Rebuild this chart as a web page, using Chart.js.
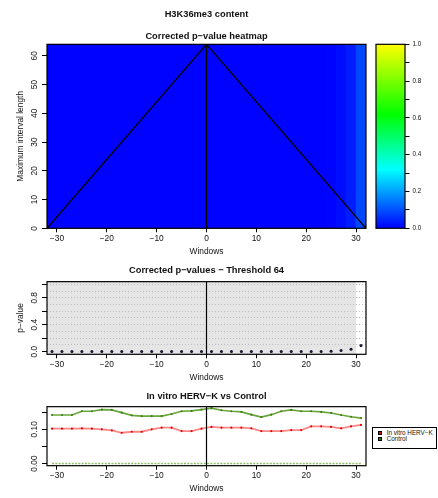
<!DOCTYPE html>
<html lang="en">
<head>
<meta charset="utf-8">
<title>H3K36me3 content</title>
<script src="https://cdn.jsdelivr.net/npm/chart.js@4.4.1/dist/chart.umd.min.js"></script>
<style>
  html, body { margin: 0; padding: 0; background: #fff; overflow: hidden; }
  #page { position: relative; width: 438px; height: 498px; }
  #page canvas { position: absolute; left: 0; }
  #legend {
    position: absolute; left: 372px; top: 427px; width: 65px; height: 22px;
    box-sizing: border-box; border: 1px solid #000; padding: 1.5px 0 0 4.5px;
    font-family: 'Liberation Sans', Arial, sans-serif; font-size: 6.3px; line-height: 6.3px; color: #111;
  }
  #legend .item { position: relative; height: 6.3px; white-space: nowrap; }
  #legend .swatch { position: absolute; left: 0; top: 1.1px; width: 4.6px; height: 4px; box-sizing: border-box; border: 0.7px solid #000; }
  #legend .name { display: block; margin-left: 9.2px; height: 6.3px; line-height: 6.3px; }
</style>
</head>
<body>
<div id="page">
  <canvas id="heatmap" width="370" height="262" style="top:0"></canvas>
  <canvas id="colorbar" width="68" height="262" style="top:0;left:370px"></canvas>
  <canvas id="pvalues" width="370" height="127" style="top:258px"></canvas>
  <canvas id="profiles" width="370" height="113" style="top:385px"></canvas>
  <div id="legend"></div>
</div>
<script>
(function () {
  // windows (odd offsets around the element)
  var windows = [-31, -29, -27, -25, -23, -21, -19, -17, -15, -13, -11, -9, -7, -5, -3, -1,
                 1, 3, 5, 7, 9, 11, 13, 15, 17, 19, 21, 23, 25, 27, 29, 31];

  // corrected p-values at threshold 64 (also colour the heatmap columns)
  var pValues = [0.003, 0.003, 0.003, 0.003, 0.003, 0.003, 0.003, 0.003, 0.003, 0.003, 0.003, 0.003, 0.003, 0.003, 0.003, 0.003,
                 0.003, 0.003, 0.003, 0.003, 0.003, 0.003, 0.003, 0.003, 0.003, 0.003, 0.003, 0.003, 0.004, 0.015, 0.035, 0.09];

  // mean content per window
  var hervK = [0.102, 0.102, 0.102, 0.103, 0.102, 0.100, 0.097, 0.090, 0.093, 0.093, 0.100, 0.105, 0.105, 0.095, 0.095, 0.102,
               0.107, 0.105, 0.105, 0.105, 0.103, 0.095, 0.095, 0.095, 0.098, 0.098, 0.109, 0.109, 0.107, 0.103, 0.109, 0.113];
  var control = [0.142, 0.142, 0.142, 0.153, 0.153, 0.158, 0.157, 0.149, 0.141, 0.139, 0.139, 0.139, 0.145, 0.153, 0.154, 0.158,
                 0.162, 0.156, 0.153, 0.151, 0.143, 0.136, 0.143, 0.153, 0.157, 0.153, 0.153, 0.151, 0.148, 0.142, 0.137, 0.133];
  var zeroLevel = [0, 0, 0, 0, 0, 0, 0, 0, 0, 0, 0, 0, 0, 0, 0, 0,
                   0, 0, 0, 0, 0, 0, 0, 0, 0, 0, 0, 0, 0, 0, 0, 0];
  var seriesNames = ['In vitro HERV\u2212K', 'Control'];

  var maxIntervalLength = 64;
  var triangleX = [-32, 0, 32];
  var triangleY = [0, 64, 0];
  var centerX = [0, 0];
  var centerY = [0, 64];
  var windowRange = [-32, 32];
  var shadeRange = [-32, 30];
  var colorbarRange = [0, 1];

  // ticks
  var xTicks = [-30, -20, -10, 0, 10, 20, 30];
  var lengthTicks = [0, 10, 20, 30, 40, 50, 60];
  var pGridTicks = [0, 0.1, 0.2, 0.3, 0.4, 0.5, 0.6, 0.7, 0.8, 0.9, 1];
  var pMarkTicks = [0, 0.2, 0.4, 0.6, 0.8, 1];
  var pLabelTicks = [0, 0.4, 0.8];
  var contentTicks = [0, 0.05, 0.1, 0.15];
  var contentLabelTicks = [0, 0.1];
  var colorbarTicks = [0, 0.1, 0.2, 0.3, 0.4, 0.5, 0.6, 0.7, 0.8, 0.9, 1];
  var colorbarLabelTicks = [0, 0.2, 0.4, 0.6, 0.8, 1];

  // blue -> cyan -> green -> yellow
  var heatStops = [[0, 0, 0, 255], [0.32, 0, 255, 255], [0.62, 0, 255, 0], [1, 255, 255, 0]];
  var legendFills = ['#e80000', '#2f8000'];

  var FONT = "'Liberation Sans', Arial, Helvetica, sans-serif";
  var TEXT = '#111';
  var titleFont = { family: FONT, size: 9.3, weight: 'bold', lineHeight: 1.2 };
  var axisFont = { family: FONT, size: 8.4, lineHeight: 1.2 };

  Chart.defaults.font.family = FONT;
  Chart.defaults.color = TEXT;

  function points(xs, ys) {
    return xs.map(function (x, i) { return { x: x, y: ys[i] }; });
  }

  function near(list, v) {
    for (var i = 0; i < list.length; i++) {
      if (Math.abs(list[i] - v) < 1e-9) return true;
    }
    return false;
  }

  function fixedTicks(values) {
    return function (scale) {
      scale.ticks = values.map(function (v) { return { value: v }; });
    };
  }

  function minusLabel(v) {
    return v < 0 ? '\u2212' + Math.abs(v) : String(v);
  }

  function heatColor(p) {
    for (var i = 1; i < heatStops.length; i++) {
      var a = heatStops[i - 1], b = heatStops[i];
      if (p <= b[0]) {
        var t = (p - a[0]) / (b[0] - a[0]);
        return 'rgb(' + Math.round(a[1] + (b[1] - a[1]) * t) + ',' +
          Math.round(a[2] + (b[2] - a[2]) * t) + ',' +
          Math.round(a[3] + (b[3] - a[3]) * t) + ')';
      }
    }
    return 'rgb(255,255,0)';
  }

  // R-like box round the plotting region
  var framePlugin = {
    id: 'frame',
    afterDatasetsDraw: function (chart) {
      var a = chart.chartArea, ctx = chart.ctx;
      ctx.save();
      ctx.strokeStyle = '#000';
      ctx.lineWidth = 1.2;
      ctx.strokeRect(a.left, a.top, a.right - a.left, a.bottom - a.top);
      ctx.restore();
    }
  };

  var panelBgPlugin = {
    id: 'panelBg',
    beforeDraw: function (chart, args, opts) {
      if (!opts.color) return;
      var a = chart.chartArea, x = chart.scales.x, ctx = chart.ctx;
      var x0 = x.getPixelForValue(opts.from), x1 = x.getPixelForValue(opts.to);
      ctx.save();
      ctx.fillStyle = opts.color;
      ctx.fillRect(x0, a.top, x1 - x0, a.bottom - a.top);
      ctx.restore();
    }
  };

  var vlinePlugin = {
    id: 'vline',
    afterDatasetsDraw: function (chart, args, opts) {
      if (opts.value === undefined) return;
      var a = chart.chartArea, ctx = chart.ctx;
      var x = chart.scales.x.getPixelForValue(opts.value);
      ctx.save();
      ctx.strokeStyle = '#000';
      ctx.lineWidth = 1.2;
      ctx.beginPath();
      ctx.moveTo(x, a.top);
      ctx.lineTo(x, a.bottom);
      ctx.stroke();
      ctx.restore();
    }
  };

  function xAxis(height, titlePad) {
    return {
      type: 'linear',
      min: windowRange[0],
      max: windowRange[1],
      offset: false,
      afterBuildTicks: fixedTicks(xTicks),
      afterFit: function (s) { s.height = height; },
      grid: { offset: false, drawOnChartArea: false, drawTicks: true, tickLength: 4, tickColor: '#000', tickWidth: 1 },
      border: { display: false },
      ticks: { autoSkip: false, maxRotation: 0, padding: 1, font: axisFont, color: TEXT, callback: minusLabel },
      title: { display: true, text: 'Windows', font: axisFont, color: TEXT, padding: { top: 0, bottom: titlePad } }
    };
  }

  function yAxis(o) {
    return {
      type: 'linear',
      min: o.min,
      max: o.max,
      afterBuildTicks: fixedTicks(o.ticks),
      afterFit: function (s) { s.width = 47; },
      grid: {
        drawOnChartArea: !!o.gridColor,
        color: function (c) { return o.gridColor && c.tick && c.tick.value > 0 ? o.gridColor : 'transparent'; },
        lineWidth: 1,
        drawTicks: true,
        tickLength: 5,
        tickWidth: 1,
        tickBorderDash: [],
        tickColor: function (c) { return c.tick && near(o.marks, c.tick.value) ? '#000' : 'transparent'; }
      },
      border: { display: false, dash: [1, 2] },
      ticks: {
        autoSkip: false,
        minRotation: 90,
        maxRotation: 90,
        crossAlign: 'center',
        padding: o.pad,
        font: axisFont,
        color: TEXT,
        callback: function (v) { return near(o.labels, v) ? v.toFixed(o.digits) : ''; }
      },
      title: o.title
        ? { display: true, text: o.title, font: axisFont, color: TEXT, padding: { top: 15.5, bottom: 0 } }
        : { display: false }
    };
  }

  function baseOptions(padRight) {
    return {
      responsive: false,
      animation: false,
      devicePixelRatio: 1,
      events: [],
      layout: { padding: { left: 0, right: padRight, top: 0, bottom: 0 } }
    };
  }

  // ---- heatmap ----
  var heatOpts = baseOptions(4);
  heatOpts.plugins = {
    legend: { display: false },
    tooltip: { enabled: false },
    title: { display: true, text: 'H3K36me3 content', fullSize: false, font: titleFont, color: TEXT, padding: { top: 8.9, bottom: 0 } },
    subtitle: { display: true, text: 'Corrected p\u2212value heatmap', fullSize: false, font: titleFont, color: TEXT, padding: { top: 10.4, bottom: 2.7 } },
    panelBg: { from: windowRange[0], to: windowRange[1], color: heatColor(pValues[0]) }
  };
  heatOpts.scales = {
    x: xAxis(33.7, 5),
    y: yAxis({ min: 0, max: maxIntervalLength, ticks: lengthTicks, marks: lengthTicks, labels: lengthTicks, digits: 0, pad: 2.8, title: 'Maximum interval length' })
  };

  new Chart(document.getElementById('heatmap'), {
    type: 'bar',
    data: {
      datasets: [
        { type: 'line', data: points(triangleX, triangleY), borderColor: '#000', borderWidth: 1.3, pointRadius: 0, fill: false, tension: 0, order: 1 },
        { type: 'line', data: points(centerX, centerY), borderColor: '#000', borderWidth: 1.3, pointRadius: 0, fill: false, order: 1 },
        {
          type: 'bar',
          data: windows.map(function (w) { return { x: w, y: [0, maxIntervalLength] }; }),
          backgroundColor: pValues.map(heatColor),
          borderWidth: 0,
          barPercentage: 1,
          categoryPercentage: 1,
          order: 2
        }
      ]
    },
    options: heatOpts,
    plugins: [panelBgPlugin, framePlugin]
  });

  // ---- colour key ----
  new Chart(document.getElementById('colorbar'), {
    type: 'bar',
    data: {
      labels: [''],
      datasets: [{
        data: [colorbarRange],
        borderWidth: 0,
        barPercentage: 1,
        categoryPercentage: 1,
        backgroundColor: function (c) {
          var area = c.chart.chartArea;
          if (!area) return heatColor(0);
          var g = c.chart.ctx.createLinearGradient(0, area.bottom, 0, area.top);
          heatStops.forEach(function (s) { g.addColorStop(s[0], 'rgb(' + s[1] + ',' + s[2] + ',' + s[3] + ')'); });
          return g;
        }
      }]
    },
    options: {
      responsive: false,
      animation: false,
      devicePixelRatio: 1,
      events: [],
      layout: { padding: { left: 6, right: 0, top: 44.3, bottom: 33.7 } },
      plugins: { legend: { display: false }, tooltip: { enabled: false } },
      scales: {
        x: { display: false },
        y: {
          position: 'right',
          min: colorbarRange[0],
          max: colorbarRange[1],
          afterBuildTicks: fixedTicks(colorbarTicks),
          afterFit: function (s) { s.width = 33; },
          grid: { drawOnChartArea: false, drawTicks: true, tickLength: 4.5, tickColor: '#000', tickWidth: 1 },
          border: { display: false },
          ticks: {
            autoSkip: false,
            padding: 3,
            font: { family: FONT, size: 6.3 },
            color: TEXT,
            callback: function (v) { return near(colorbarLabelTicks, v) ? v.toFixed(1) : ''; }
          }
        }
      }
    },
    plugins: [framePlugin]
  });

  // ---- p-values at threshold 64 ----
  var pOpts = baseOptions(4);
  pOpts.plugins = {
    legend: { display: false },
    tooltip: { enabled: false },
    title: { display: true, text: 'Corrected p\u2212values \u2212 Threshold 64', fullSize: false, font: titleFont, color: TEXT, padding: { top: 6.4, bottom: 6.1 } },
    panelBg: { from: shadeRange[0], to: shadeRange[1], color: '#e5e5e5' },
    vline: { value: 0 }
  };
  pOpts.scales = {
    x: xAxis(30.7, 2),
    y: yAxis({ min: -0.04, max: 1.04, ticks: pGridTicks, marks: pMarkTicks, labels: pLabelTicks, digits: 1, gridColor: '#bdbdbd', pad: 1.7, title: 'p\u2212value' })
  };

  new Chart(document.getElementById('pvalues'), {
    type: 'line',
    data: {
      datasets: [{
        data: points(windows, pValues),
        showLine: false,
        pointRadius: 1.5,
        pointBorderWidth: 0,
        pointBackgroundColor: '#16162e'
      }]
    },
    options: pOpts,
    plugins: [panelBgPlugin, vlinePlugin, framePlugin]
  });

  // ---- HERV-K vs control ----
  var cOpts = baseOptions(4);
  cOpts.plugins = {
    legend: { display: false },
    tooltip: { enabled: false },
    title: { display: true, text: 'In vitro HERV\u2212K vs Control', fullSize: false, font: titleFont, color: TEXT, padding: { top: 5.4, bottom: 5.1 } },
    vline: { value: 0 }
  };
  cOpts.scales = {
    x: xAxis(32.3, 4),
    y: yAxis({ min: -0.0065, max: 0.1665, ticks: contentTicks, marks: contentTicks, labels: contentLabelTicks, digits: 2, pad: -0.7 })
  };

  new Chart(document.getElementById('profiles'), {
    type: 'line',
    data: {
      datasets: [
        { label: seriesNames[0], data: points(windows, hervK), borderColor: 'rgba(255,70,70,0.65)', borderWidth: 1.8, tension: 0,
          pointRadius: 1.1, pointBorderWidth: 0, pointBackgroundColor: '#ee0000' },
        { label: seriesNames[1], data: points(windows, control), borderColor: '#6aa63c', borderWidth: 1.7, tension: 0,
          pointRadius: 1.1, pointBorderWidth: 0, pointBackgroundColor: '#3c8410' },
        { label: 'zero', data: points(windows, zeroLevel), borderColor: '#92c068', borderWidth: 1.6, borderDash: [2, 1.3],
          pointRadius: 0 }
      ]
    },
    options: cOpts,
    plugins: [vlinePlugin, framePlugin]
  });

  document.getElementById('legend').innerHTML = seriesNames.map(function (name, i) {
    return '<div class="item"><span class="swatch" style="background:' + legendFills[i] + '"></span>' +
      '<span class="name">' + name + '</span></div>';
  }).join('');
})();
</script>
</body>
</html>
